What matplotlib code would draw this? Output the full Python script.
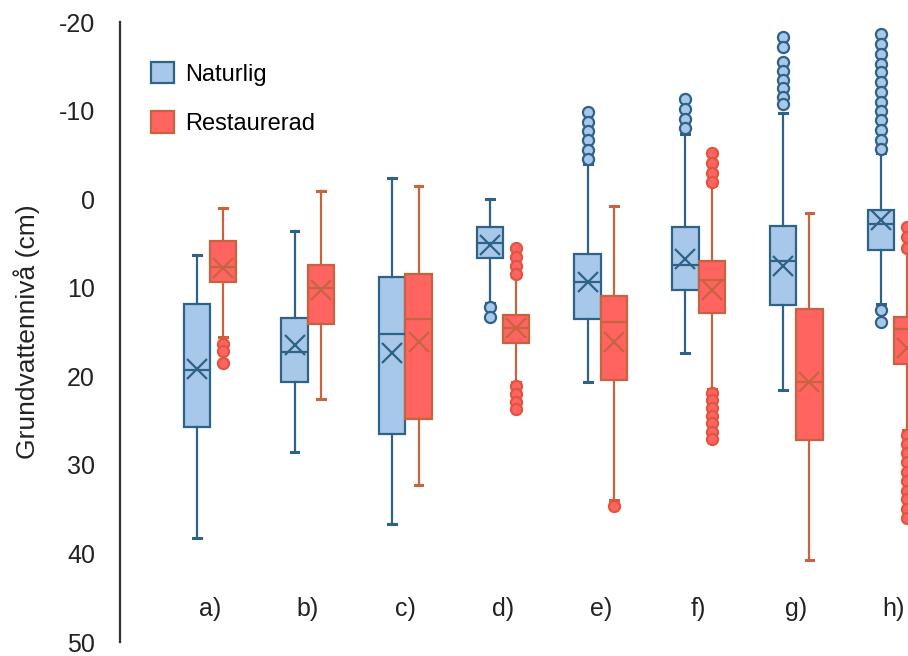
import matplotlib
matplotlib.use("Agg")
import matplotlib.pyplot as plt
from matplotlib.patches import Patch

plt.rcParams["font.family"] = ["Liberation Sans", "DejaVu Sans"]
plt.rcParams["axes.unicode_minus"] = False

# ------------------------------------------------------------
# DATA (cm, inverted axis)
# ------------------------------------------------------------
categories = ["a)", "b)", "c)", "d)", "e)", "f)", "g)", "h)"]

nat_q1 = [11.8, 13.4, 8.8, 3.1, 6.2, 3.1, 3.0, 1.2]
nat_med = [19.3, 17.3, 15.2, 5.0, 9.3, 7.4, 7.0, 2.8]
nat_q3 = [25.7, 20.7, 26.5, 6.6, 13.5, 10.3, 11.9, 5.7]
nat_mean = [19.2, 16.5, 17.4, 5.2, 9.4, 6.8, 7.5, 2.3]
nat_lo = [6.3, 3.6, -2.4, 0.0, -4.0, -7.4, -9.7, -5.2]
nat_hi = [38.3, 28.6, 36.7, 11.7, 20.7, 17.4, 21.5, 11.8]
nat_fliers = [
    [],
    [],
    [],
    [12.2, 13.3],
    [-9.8, -8.7, -7.7, -6.7, -5.6, -4.5],
    [-11.3, -10.2, -9.1, -8.0],
    [-18.3, -17.2, -15.5, -14.5, -13.4, -12.5, -11.5, -10.7],
    [-18.6, -17.5, -16.4, -15.3, -14.3, -13.2, -12.1, -11.0, -9.9, -8.9,
     -7.8, -6.7, -5.7, 12.5, 13.9],
]

res_q1 = [4.7, 7.4, 8.5, 13.1, 10.9, 7.0, 12.4, 13.3]
res_med = [7.7, 10.0, 13.5, 14.6, 13.9, 9.1, 20.7, 14.7]
res_q3 = [9.4, 14.1, 24.8, 16.2, 20.4, 12.9, 27.2, 18.6]
res_mean = [7.8, 10.3, 16.1, 14.6, 16.1, 10.3, 20.7, 16.8]
res_lo = [1.0, -0.9, -1.5, 8.8, 0.8, -1.6, 1.6, 5.8]
res_hi = [15.6, 22.6, 32.3, 20.6, 34.0, 21.4, 40.7, 26.1]
res_fliers = [
    [16.3, 17.2, 18.5],
    [],
    [],
    [5.5, 6.5, 7.5, 8.5, 21.1, 22.0, 22.9, 23.7],
    [34.6],
    [-5.2, -4.1, -3.0, -1.9, 21.9, 22.7, 23.6, 24.5, 25.3, 26.3, 27.1],
    [],
    [3.1, 4.3, 5.5, 26.6, 27.6, 28.7, 29.7, 30.8, 31.8, 32.9, 33.9,
     35.0, 36.0],
]

# ------------------------------------------------------------
# STYLE
# ------------------------------------------------------------
BLUE_FILL = "#a8c8ea"
BLUE_EDGE = "#2e6287"
RED_FILL = "#ff6461"
RED_EDGE = "#c5643f"
RED_FLIER_EDGE = "#e0553f"


def make_stats(q1, med, q3, mean, lo, hi, fliers):
    return [
        {"q1": a, "med": m, "q3": b, "mean": mu, "whislo": l, "whishi": h,
         "fliers": f}
        for a, m, b, mu, l, h, f in zip(q1, med, q3, mean, lo, hi, fliers)
    ]


def draw(ax, stats, positions, fill, edge, flier_edge):
    ax.bxp(
        stats,
        positions=positions,
        widths=0.27,
        capwidths=0.08,
        patch_artist=True,
        showmeans=True,
        manage_ticks=False,
        boxprops=dict(facecolor=fill, edgecolor=edge, linewidth=1.6),
        medianprops=dict(color=edge, linewidth=1.6),
        whiskerprops=dict(color=edge, linewidth=1.6),
        capprops=dict(color=edge, linewidth=2.2),
        meanprops=dict(marker="x", markeredgecolor=edge, markersize=15,
                       markeredgewidth=1.6),
        flierprops=dict(marker="o", markerfacecolor=fill,
                        markeredgecolor=flier_edge, markersize=8,
                        markeredgewidth=1.6),
    )


def main() -> None:
    fig = plt.figure(figsize=(9.08, 6.56), dpi=100)
    ax = fig.add_axes([120 / 908, 1 - 642 / 656, 1 - 120 / 908, 620 / 656])

    x = list(range(len(categories)))
    nat_pos = [i - 0.135 for i in x]
    res_pos = [i + 0.135 for i in x]

    draw(ax, make_stats(nat_q1, nat_med, nat_q3, nat_mean, nat_lo, nat_hi,
                        nat_fliers), nat_pos, BLUE_FILL, BLUE_EDGE, BLUE_EDGE)
    draw(ax, make_stats(res_q1, res_med, res_q3, res_mean, res_lo, res_hi,
                        res_fliers), res_pos, RED_FILL, RED_EDGE,
         RED_FLIER_EDGE)

    ax.set_ylim(50, -20)
    ax.set_xlim(-0.921, 7.144)
    ax.set_yticks(range(-20, 51, 10))
    ax.tick_params(axis="y", length=0, pad=18, labelsize=18, colors="#222222")
    ax.set_xticks([])

    for side in ("top", "right", "bottom"):
        ax.spines[side].set_visible(False)
    ax.spines["left"].set_linewidth(1.6)
    ax.spines["left"].set_color("#333333")

    for i, cat in zip(x, categories):
        ax.text(i, 46.3, cat, ha="center", va="center", fontsize=18,
                color="#222222")

    ax.set_ylabel("Grundvattennivå (cm)", fontsize=19, color="#222222")
    ax.yaxis.set_label_coords(-0.102, 0.5)

    handles = [
        Patch(facecolor=BLUE_FILL, edgecolor=BLUE_EDGE, linewidth=1.6,
              label="Naturlig"),
        Patch(facecolor=RED_FILL, edgecolor=RED_EDGE, linewidth=1.6,
              label="Restaurerad"),
    ]
    ax.legend(handles=handles, loc="upper left", bbox_to_anchor=(0.012, 0.97),
              frameon=False, fontsize=17, handlelength=1.0,
              handleheight=1.0, handletextpad=0.45, labelspacing=1.1)

    fig.savefig("out.png", dpi=100)


if __name__ == "__main__":
    main()
